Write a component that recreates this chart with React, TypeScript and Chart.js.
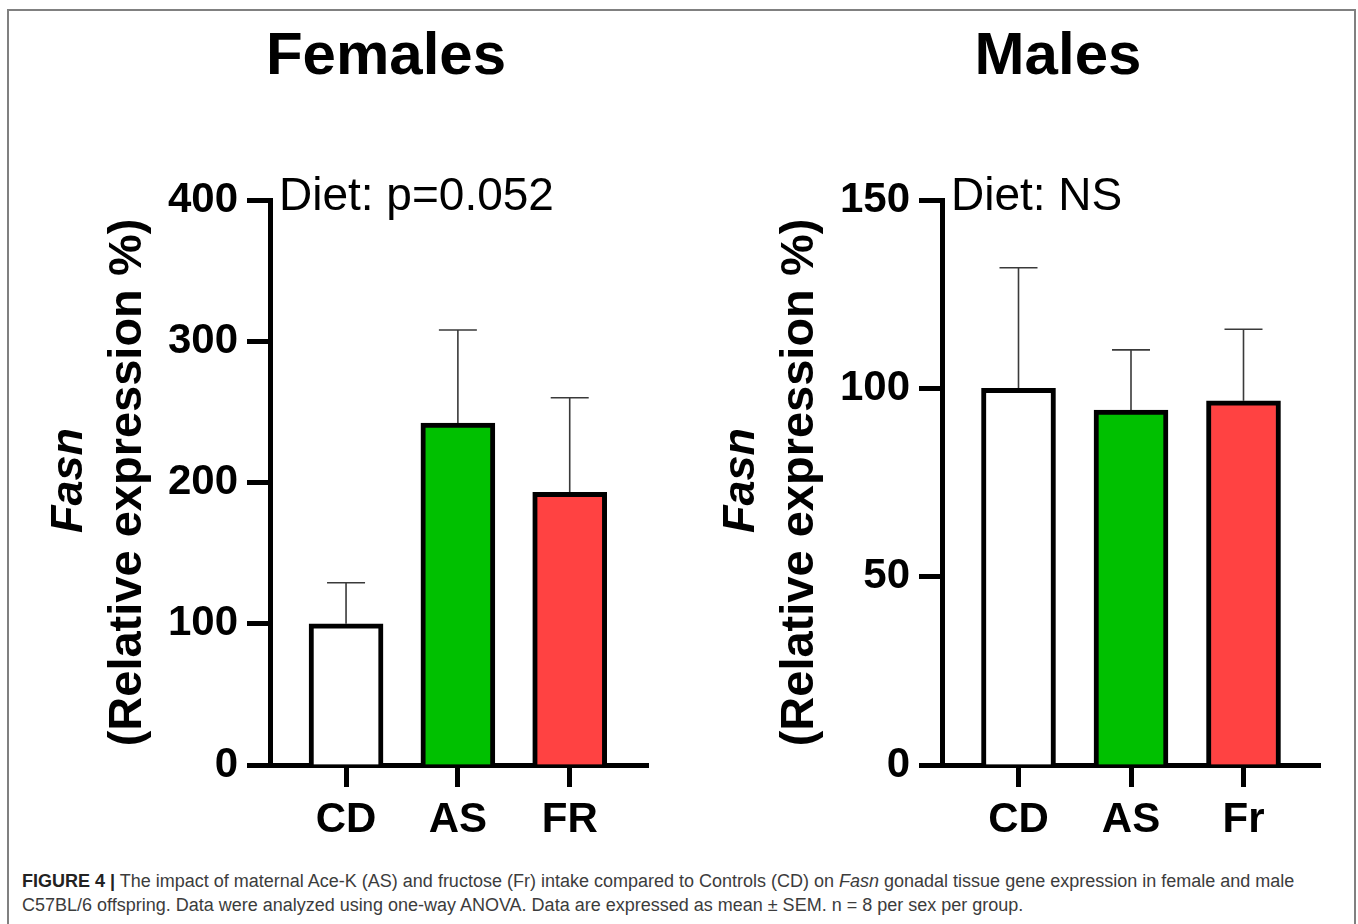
import React, { useEffect, useRef } from "react";
import { Chart, registerables } from "chart.js";

Chart.register(...registerables);

// ---- data ----
const femaleCategories = ["CD", "AS", "FR"];
const maleCategories = ["CD", "AS", "Fr"];
const femaleMeans = [100, 242, 193];
const femaleSem = [29, 66, 67];
const maleMeans = [100, 94.2, 96.7];
const maleSem = [32, 16, 19];
const femaleYTicks = [0, 100, 200, 300, 400];
const maleYTicks = [0, 50, 100, 150];
const barColors = ["#ffffff", "#00c000", "#ff4242"];

const FONT = '"Liberation Sans", Arial, Helvetica, sans-serif';

const decorPlugin = {
  id: "panelDecor",
  beforeDatasetsDraw(chart: any, _args: any, opts: any) {
    const ctx = chart.ctx;
    const meta = chart.getDatasetMeta(0);
    const y = chart.scales.y;
    ctx.save();
    ctx.strokeStyle = "#3a3a3a";
    ctx.lineWidth = 1.6;
    meta.data.forEach((bar: any, i: number) => {
      const top = y.getPixelForValue(opts.means[i] + opts.sem[i]);
      ctx.beginPath();
      ctx.moveTo(bar.x, bar.y);
      ctx.lineTo(bar.x, top);
      ctx.moveTo(bar.x - 19, top);
      ctx.lineTo(bar.x + 19, top);
      ctx.stroke();
    });
    ctx.restore();
  },
  afterDraw(chart: any, _args: any, opts: any) {
    const ctx = chart.ctx;
    const area = chart.chartArea;
    ctx.save();
    ctx.fillStyle = "#000";
    // panel title
    ctx.font = `bold 60px ${FONT}`;
    ctx.textAlign = "center";
    ctx.textBaseline = "alphabetic";
    ctx.fillText(opts.title, area.left + 116, 74);
    // annotation
    ctx.font = `46px ${FONT}`;
    ctx.textAlign = "left";
    ctx.fillText(opts.note, area.left + 9, 210);
    // y-axis title (two lines, rotated)
    const yc = (area.top + area.bottom) / 2;
    ctx.translate(area.left, yc);
    ctx.rotate(-Math.PI / 2);
    ctx.textAlign = "center";
    ctx.textBaseline = "middle";
    ctx.font = `italic bold 45px ${FONT}`;
    ctx.fillText("Fasn", 2, -200);
    ctx.font = `bold 47px ${FONT}`;
    ctx.fillText("(Relative expression %)", 0, -142);
    ctx.restore();
  },
};

type PanelProps = {
  left: number;
  width: number;
  height: number;
  axisLeft: number;
  padRight: number;
  plotBottom: number;
  title: string;
  note: string;
  categories: string[];
  means: number[];
  sem: number[];
  yTicks: number[];
  xMin: number;
  xMax: number;
};

function Panel(p: PanelProps) {
  const ref = useRef<HTMLCanvasElement | null>(null);
  useEffect(() => {
    if (!ref.current) return;
    const chart = new Chart(ref.current, {
      type: "bar",
      data: {
        datasets: [
          {
            data: p.means.map((v, i) => ({ x: i, y: v })),
            backgroundColor: barColors,
            borderColor: "#000000",
            borderWidth: 5,
            borderSkipped: "start",
            barThickness: 74,
          } as any,
        ],
      },
      options: {
        responsive: false,
        animation: false,
        layout: { padding: { top: 200, left: 0, right: p.padRight, bottom: 0 } },
        plugins: {
          legend: { display: false },
          tooltip: { enabled: false },
          title: { display: false },
          panelDecor: { title: p.title, note: p.note, means: p.means, sem: p.sem },
        } as any,
        scales: {
          x: {
            type: "linear",
            min: p.xMin,
            max: p.xMax,
            offset: false,
            z: 1,
            afterBuildTicks: (s: any) => {
              s.ticks = p.categories.map((_, i) => ({ value: i }));
            },
            afterFit: (s: any) => {
              s.height = p.height - p.plotBottom;
            },
            border: { display: true, color: "#000", width: 5 },
            grid: {
              display: true,
              offset: false,
              drawOnChartArea: false,
              drawTicks: true,
              tickLength: 22,
              tickWidth: 5,
              tickColor: "#000",
            },
            ticks: {
              color: "#000",
              font: { family: FONT, size: 42, weight: "bold" },
              padding: 8,
              maxRotation: 0,
              autoSkip: false,
              callback: (_v: any, i: number) => p.categories[i],
            },
          },
          y: {
            type: "linear",
            min: 0,
            max: p.yTicks[p.yTicks.length - 1],
            z: 1,
            afterBuildTicks: (s: any) => {
              s.ticks = p.yTicks.map((v) => ({ value: v }));
            },
            afterFit: (s: any) => {
              s.width = p.axisLeft;
            },
            border: { display: true, color: "#000", width: 5 },
            grid: {
              display: true,
              drawOnChartArea: false,
              drawTicks: true,
              tickLength: 23,
              tickWidth: 5,
              tickColor: "#000",
            },
            ticks: {
              color: "#000",
              font: { family: FONT, size: 42, weight: "bold" },
              padding: 9,
            },
          },
        },
      } as any,
      plugins: [decorPlugin as any],
    });
    return () => chart.destroy();
  }, []);
  return (
    <canvas
      ref={ref}
      width={p.width}
      height={p.height}
      style={{ position: "absolute", left: p.left, top: 0, width: p.width, height: p.height }}
    />
  );
}

export default function App() {
  return (
    <div
      style={{
        position: "absolute",
        left: 0,
        top: 0,
        width: 1358,
        height: 924,
        background: "#fff",
        overflow: "hidden",
      }}
    >
      <div
        style={{
          position: "absolute",
          left: 7,
          top: 9,
          width: 1349,
          height: 1000,
          boxSizing: "border-box",
          borderLeft: "2px solid #808080",
          borderTop: "2px solid #808080",
          borderRight: "2px solid #808080",
        }}
      />
      <Panel
        left={0}
        width={680}
        height={850}
        axisLeft={270}
        padRight={32}
        plotBottom={765}
        title="Females"
        note="Diet: p=0.052"
        categories={femaleCategories}
        means={femaleMeans}
        sem={femaleSem}
        yTicks={femaleYTicks}
        xMin={-0.68}
        xMax={2.7}
      />
      <Panel
        left={680}
        width={678}
        height={850}
        axisLeft={262}
        padRight={38}
        plotBottom={765}
        title="Males"
        note="Diet: NS"
        categories={maleCategories}
        means={maleMeans}
        sem={maleSem}
        yTicks={maleYTicks}
        xMin={-0.68}
        xMax={2.68}
      />
      <div
        style={{
          position: "absolute",
          left: 22,
          top: 869,
          fontFamily: FONT,
          fontSize: 18,
          lineHeight: "24px",
          color: "#3c3c3c",
          whiteSpace: "nowrap",
        }}
      >
        <b style={{ color: "#222" }}>FIGURE 4 |</b> The impact of maternal Ace-K (AS) and fructose (Fr) intake
        compared to Controls (CD) on <i>Fasn</i> gonadal tissue gene expression in female and male
        <br />
        C57BL/6 offspring. Data were analyzed using one-way ANOVA. Data are expressed as mean ± SEM. n = 8 per sex
        per group.
      </div>
    </div>
  );
}
